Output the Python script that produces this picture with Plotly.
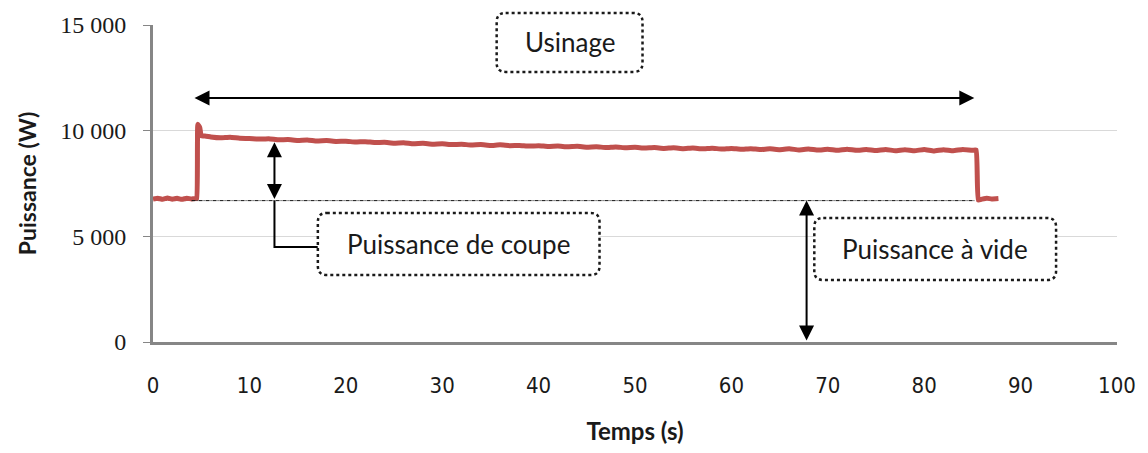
import plotly.graph_objects as go

# Measured spindle power over one machining cycle
temps_s = [
    0, 0.5, 1.0, 1.5, 2.0, 2.5, 3.0, 3.5, 4.0, 4.4, 4.55, 4.65, 4.85, 5.0, 5.5,
    6, 7, 8, 9, 10, 11, 12, 13, 14, 15, 16, 17, 18, 19, 20,
    21, 22, 23, 24, 25, 26, 27, 28, 29, 30, 31, 32, 33, 34, 35,
    36, 37, 38, 39, 40, 41, 42, 43, 44, 45, 46, 47, 48, 49, 50,
    51, 52, 53, 54, 55, 56, 57, 58, 59, 60, 61, 62, 63, 64, 65,
    66, 67, 68, 69, 70, 71, 72, 73, 74, 75, 76, 77, 78, 79, 80,
    81, 82, 83, 84, 85, 85.4, 85.6, 86.0, 86.5, 87.0, 87.7,
]
puissance_w = [
    6760, 6800, 6750, 6810, 6760, 6800, 6750, 6800, 6770, 6790, 6800, 10300, 10150, 9760, 9740,
    9700, 9660, 9690, 9640, 9630, 9600, 9620, 9570, 9580, 9540, 9560, 9510, 9530, 9490, 9500,
    9460, 9480, 9440, 9450, 9410, 9430, 9380, 9400, 9360, 9380, 9340, 9360, 9320, 9340, 9300,
    9330, 9290, 9300, 9270, 9290, 9250, 9270, 9240, 9260, 9220, 9240, 9200, 9230, 9190, 9210,
    9180, 9200, 9160, 9190, 9150, 9180, 9140, 9170, 9130, 9160, 9120, 9150, 9110, 9140, 9100,
    9140, 9090, 9130, 9080, 9120, 9070, 9120, 9070, 9110, 9060, 9110, 9050, 9100, 9050, 9110,
    9040, 9100, 9050, 9110, 9070, 9080, 6720, 6760, 6800, 6770, 6790,
]

# Reference levels used by the annotations
puissance_vide_w = 6690
debut_usinage_s = 4.15
fin_usinage_s = 85.2
niveau_fleche_usinage_w = 11550
t_fleche_coupe_s = 12.6
haut_fleche_coupe_w = 9450
t_fleche_vide_s = 67.8

x_ticks = [0, 10, 20, 30, 40, 50, 60, 70, 80, 90, 100]
x_tick_labels = ["0", "10", "20", "30", "40", "50", "60", "70", "80", "90", "100"]
y_ticks = [0, 5000, 10000, 15000]
y_tick_labels = ["0", "5 000", "10 000", "15 000"]

X_RANGE = (0, 100)
Y_RANGE = (0, 15000)
W, H = 1148, 453
M_L, M_R, M_T, M_B = 153, 28, 25, 111
PLOT_W = W - M_L - M_R
PLOT_H = H - M_T - M_B

RED = "#C0504D"
AXIS_GREY = "#868686"
GRID_GREY = "#D9D9D9"
LABEL_FONT = "Lato, 'Open Sans', sans-serif"


def px(x):
    return (x - X_RANGE[0]) / (X_RANGE[1] - X_RANGE[0])


def py(y):
    return (y - Y_RANGE[0]) / (Y_RANGE[1] - Y_RANGE[0])


def rounded_box(x0, x1, y0, y1, r_px=9):
    """Rounded rectangle path in paper coordinates from data-space corners."""
    a, b = px(x0), px(x1)
    lo, hi = py(min(y0, y1)), py(max(y0, y1))
    rx, ry = r_px / PLOT_W, r_px / PLOT_H
    return (
        f"M{a + rx},{hi} L{b - rx},{hi} Q{b},{hi} {b},{hi - ry} "
        f"L{b},{lo + ry} Q{b},{lo} {b - rx},{lo} "
        f"L{a + rx},{lo} Q{a},{lo} {a},{lo + ry} "
        f"L{a},{hi - ry} Q{a},{hi} {a + rx},{hi} Z"
    )


fig = go.Figure()
fig.add_trace(
    go.Scatter(
        x=temps_s,
        y=puissance_w,
        mode="lines",
        line=dict(color=RED, width=5, shape="spline", smoothing=0.3),
        hoverinfo="skip",
        showlegend=False,
    )
)

# Label boxes (data-space extents, drawn in paper space so they are not clipped)
boxes = [
    ("Usinage", 35.65, 50.78, 15570, 12780),
    ("Puissance de coupe", 17.10, 46.32, 6105, 3170),
    ("Puissance à vide", 68.60, 93.68, 5870, 2935),
]

shapes = []
annotations = []

# Idle power reference line
shapes.append(dict(
    type="line", xref="x", yref="y",
    x0=4.0, x1=fin_usinage_s, y0=puissance_vide_w, y1=puissance_vide_w,
    line=dict(color="#111111", width=1, dash="4px,1px,1px,1px"),
    layer="above",
))

# Connector from the cutting-power arrow to its label box
conn_y = 4496
shapes.append(dict(
    type="path", xref="paper", yref="paper",
    path=(f"M{px(t_fleche_coupe_s)},{py(puissance_vide_w)} "
          f"L{px(t_fleche_coupe_s)},{py(conn_y)} L{px(17.10)},{py(conn_y)}"),
    line=dict(color="black", width=2),
    layer="above",
))

for text, x0, x1, y0, y1 in boxes:
    shapes.append(dict(
        type="path", xref="paper", yref="paper",
        path=rounded_box(x0, x1, y0, y1),
        line=dict(color="#1a1a1a", width=2.5, dash="dot"),
        fillcolor="white",
        layer="above",
    ))
    annotations.append(dict(
        xref="paper", yref="paper",
        x=(px(x0) + px(x1)) / 2, y=(py(y0) + py(y1)) / 2,
        text=text, showarrow=False,
        font=dict(family=LABEL_FONT, size=26, color="#1a1a1a"),
        xanchor="center", yanchor="middle",
    ))

# Double-headed arrows
arrows = [
    (fin_usinage_s, niveau_fleche_usinage_w, debut_usinage_s, niveau_fleche_usinage_w),
    (t_fleche_coupe_s, haut_fleche_coupe_w, t_fleche_coupe_s, puissance_vide_w),
    (t_fleche_vide_s, puissance_vide_w, t_fleche_vide_s, 0),
]
for x, y, ax, ay in arrows:
    annotations.append(dict(
        x=x, y=y, ax=ax, ay=ay,
        xref="x", yref="y", axref="x", ayref="y",
        text="", showarrow=True,
        arrowhead=2, arrowside="end+start",
        arrowsize=1.5, arrowwidth=2, arrowcolor="black",
        standoff=0, startstandoff=0,
    ))

fig.update_layout(
    width=W, height=H,
    margin=dict(l=M_L, r=M_R, t=M_T, b=M_B),
    paper_bgcolor="white",
    plot_bgcolor="white",
    shapes=shapes,
    annotations=annotations,
    showlegend=False,
)

fig.update_xaxes(
    range=list(X_RANGE),
    tickvals=x_ticks, ticktext=x_tick_labels,
    showgrid=False, zeroline=False,
    showline=True, linecolor=AXIS_GREY, linewidth=3,
    ticks="", ticklabelstandoff=22,
    tickfont=dict(family="'Liberation Sans Narrow', 'DejaVu Sans Condensed', sans-serif",
                  size=22, color="#1a1a1a"),
    title=dict(text="<b>Temps (s)</b>", standoff=26,
               font=dict(family=LABEL_FONT, size=24, color="#1a1a1a")),
)
fig.update_yaxes(
    range=list(Y_RANGE),
    tickvals=y_ticks, ticktext=y_tick_labels,
    showgrid=True, gridcolor=GRID_GREY, gridwidth=1,
    zeroline=False,
    showline=True, linecolor=AXIS_GREY, linewidth=3,
    ticks="outside", ticklen=7, tickcolor=AXIS_GREY, tickwidth=1,
    ticklabelstandoff=12,
    tickfont=dict(family="'Liberation Serif', serif", size=24, color="#1a1a1a"),
    title=dict(text="<b>Puissance (W)</b>", standoff=18,
               font=dict(family=LABEL_FONT, size=23, color="#1a1a1a")),
)

fig.write_html("out.html")
